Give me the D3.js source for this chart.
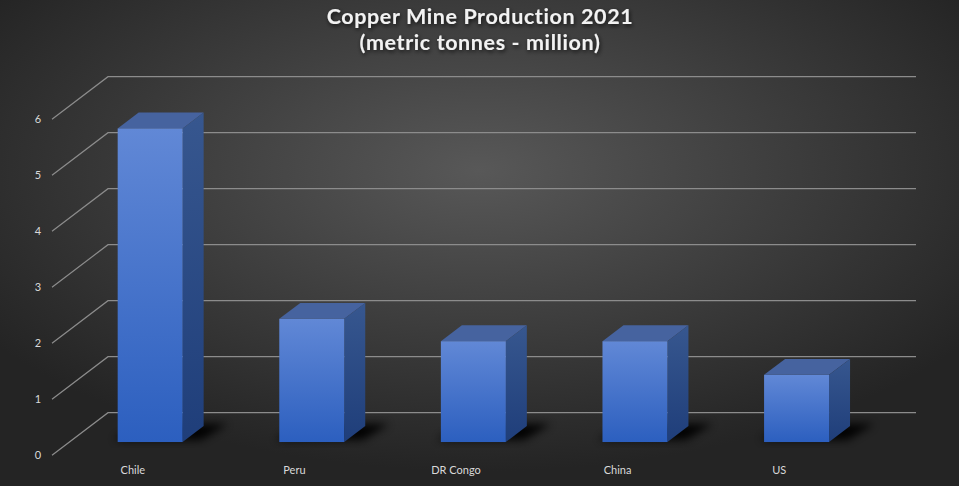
<!DOCTYPE html>
<html>
<head>
<meta charset="utf-8">
<script src="https://cdn.jsdelivr.net/npm/d3@7"></script>
<style>
  html, body { margin: 0; padding: 0; background: #2a2a2a; }
  svg { display: block; }
</style>
</head>
<body>
<div id="chart"></div>
<script>
// datos del grafico
var paises = ["Chile", "Peru", "DR Congo", "China", "US"];
var produccion = [5.6, 2.2, 1.8, 1.8, 1.2];
var ticksY = [0, 1, 2, 3, 4, 5, 6];
var titulo = ["Copper Mine Production 2021", "(metric tonnes - million)"];

var width = 959, height = 486;

// profundidad del piso (de la pared del fondo hacia el frente)
var prof = { dx: -56, dy: 42.5 };
var barFrente = 0.69, barFondo = 0.315;

var x = d3.scaleBand()
    .domain(paises)
    .range([108, 916]);

var y = d3.scaleLinear()
    .domain([0, 6])
    .range([412.7, 76.7]);

var svg = d3.select("#chart").append("svg")
    .attr("width", width)
    .attr("height", height);

var defs = svg.append("defs");

// fondo radial
var fondo = defs.append("radialGradient")
    .attr("id", "fondo")
    .attr("cx", "50%").attr("cy", "35%").attr("r", "62%");
fondo.append("stop").attr("offset", "0%").attr("stop-color", "#585858");
fondo.append("stop").attr("offset", "100%").attr("stop-color", "#242424");

var gFrente = defs.append("linearGradient").attr("id", "frente")
    .attr("x1", 0).attr("y1", 0).attr("x2", 0).attr("y2", 1);
gFrente.append("stop").attr("offset", "0%").attr("stop-color", "#6188d6");
gFrente.append("stop").attr("offset", "100%").attr("stop-color", "#2c5fbf");

var gLado = defs.append("linearGradient").attr("id", "lado")
    .attr("x1", 0).attr("y1", 0).attr("x2", 0).attr("y2", 1);
gLado.append("stop").attr("offset", "0%").attr("stop-color", "#37578f");
gLado.append("stop").attr("offset", "100%").attr("stop-color", "#1f3e7a");

defs.append("filter").attr("id", "sombra")
    .attr("x", "-50%").attr("y", "-50%").attr("width", "200%").attr("height", "200%")
    .append("feGaussianBlur").attr("stdDeviation", 4.5);

var fTitulo = defs.append("filter").attr("id", "sombraTexto")
    .attr("x", "-10%").attr("y", "-30%").attr("width", "120%").attr("height", "160%");
fTitulo.append("feDropShadow")
    .attr("dx", 1).attr("dy", 2).attr("stdDeviation", 2)
    .attr("flood-color", "#000").attr("flood-opacity", 0.7);

svg.append("rect")
    .attr("width", width).attr("height", height)
    .attr("fill", "url(#fondo)");

// Titulo
svg.append("g").attr("filter", "url(#sombraTexto)")
  .selectAll("text").data(titulo).enter()
  .append("text")
    .attr("x", 480)
    .attr("y", function(d, i) { return 24 + i * 26; })
    .attr("text-anchor", "middle")
    .style("font-family", "Lato, 'Open Sans', sans-serif")
    .style("font-weight", "bold")
    .style("font-size", "21.5px")
    .style("letter-spacing", "0.6px")
    .attr("fill", "#f2f2f2")
    .text(function(d) { return d; });

// Lineas de la cuadricula: pared del fondo + diagonal del lado izquierdo
var grid = svg.append("g").attr("stroke", "#8c8c8c").attr("stroke-width", 1.2).attr("fill", "none");
grid.selectAll("polyline").data(ticksY).enter()
  .append("polyline")
    .attr("points", function(d) {
        var x0 = x.range()[0], y0 = y(d);
        return [[x0 + prof.dx, y0 + prof.dy], [x0, y0], [x.range()[1], y0]].join(" ");
    });

// etiquetas eje Y
svg.selectAll("text.ytick").data(ticksY).enter()
  .append("text")
    .attr("class", "ytick")
    .attr("x", 38)
    .attr("y", function(d) { return y(d) + prof.dy; })
    .attr("dy", "0.35em")
    .attr("text-anchor", "middle")
    .style("font-family", "Lato, sans-serif")
    .style("font-size", "11px")
    .attr("fill", "#d9d9d9")
    .text(function(d) { return d; });

// etiquetas eje X
svg.selectAll("text.xtick").data(paises).enter()
  .append("text")
    .attr("class", "xtick")
    .attr("x", function(d) { return x(d) + x.bandwidth() / 2 + prof.dx; })
    .attr("y", 474)
    .attr("text-anchor", "middle")
    .style("font-family", "Lato, sans-serif")
    .style("font-size", "11px")
    .attr("fill", "#d9d9d9")
    .text(function(d) { return d; });

// Barras 3D
var anchoBarra = x.bandwidth() * 0.402;
var datos = paises.map(function(p, i) { return { pais: p, valor: produccion[i] }; });

function punto(cx, v, t) {
    return [cx + prof.dx * t, y(v) + prof.dy * t];
}

var barras = svg.selectAll("g.barra").data(datos).enter()
  .append("g").attr("class", "barra");

// sombra sobre el piso
barras.append("polygon")
    .attr("fill", "#000")
    .attr("opacity", 0.95)
    .attr("filter", "url(#sombra)")
    .attr("points", function(d) {
        var c = x(d.pais) + x.bandwidth() / 2;
        var l = c - anchoBarra / 2, r = c + anchoBarra / 2 + 22;
        return [punto(l, 0, barFrente), punto(r, 0, barFrente), punto(r + 6, 0, barFondo), punto(l + 6, 0, barFondo)]
            .map(function(p) { return [p[0] - 4, p[1] - 2]; }).join(" ");
    });

// cara superior
barras.append("polygon")
    .attr("fill", "#46639f")
    .attr("points", function(d) {
        var c = x(d.pais) + x.bandwidth() / 2;
        var l = c - anchoBarra / 2, r = c + anchoBarra / 2;
        return [punto(l, d.valor, barFrente), punto(r, d.valor, barFrente), punto(r, d.valor, barFondo), punto(l, d.valor, barFondo)].join(" ");
    });

// cara lateral
barras.append("polygon")
    .attr("fill", "url(#lado)")
    .attr("points", function(d) {
        var r = x(d.pais) + x.bandwidth() / 2 + anchoBarra / 2;
        return [punto(r, d.valor, barFrente), punto(r, d.valor, barFondo), punto(r, 0, barFondo), punto(r, 0, barFrente)].join(" ");
    });

// cara frontal
barras.append("rect")
    .attr("fill", "url(#frente)")
    .attr("x", function(d) { return x(d.pais) + x.bandwidth() / 2 - anchoBarra / 2 + prof.dx * barFrente; })
    .attr("y", function(d) { return y(d.valor) + prof.dy * barFrente; })
    .attr("width", anchoBarra)
    .attr("height", function(d) { return y(0) - y(d.valor); });
</script>
</body>
</html>
